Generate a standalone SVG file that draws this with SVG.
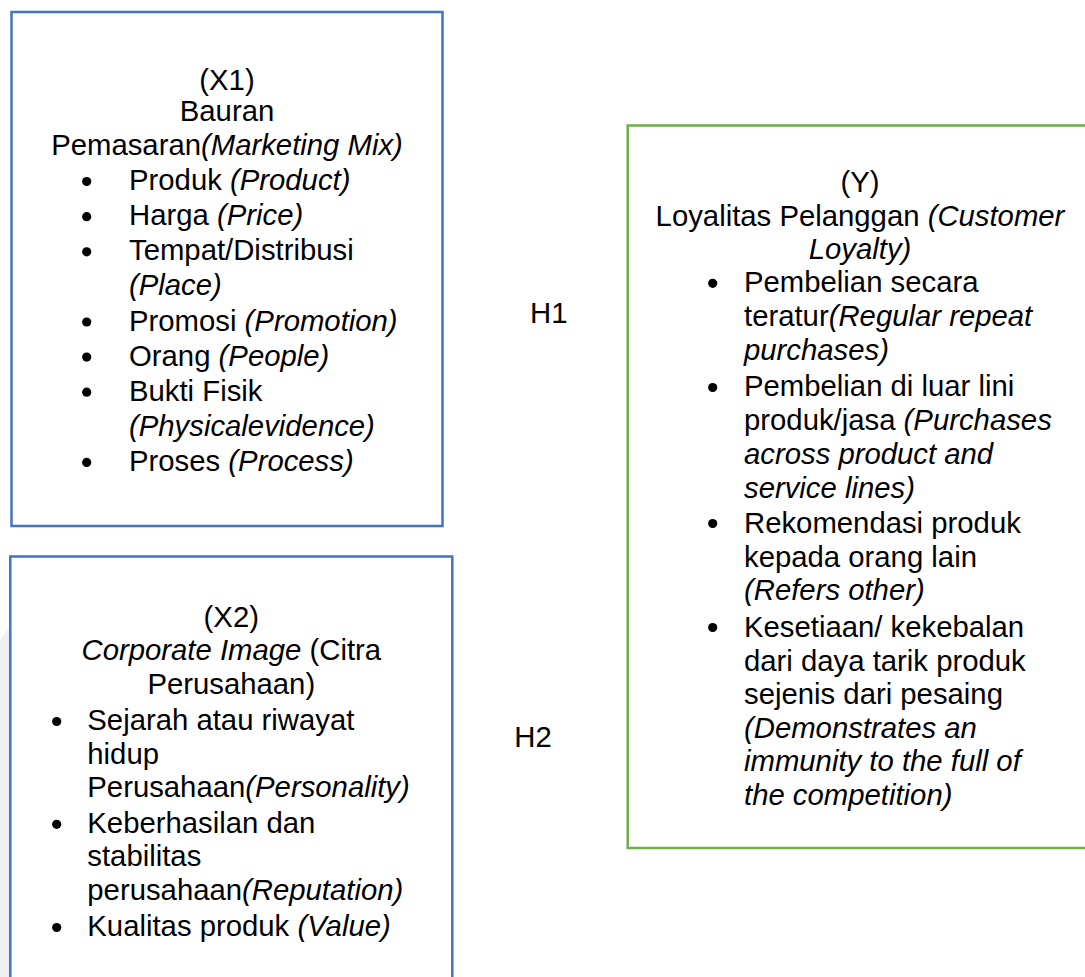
<svg xmlns="http://www.w3.org/2000/svg" width="1085" height="977" viewBox="0 0 1085 977">
<style>
.t{font-family:"Liberation Sans",Arial,sans-serif;font-size:29.3px;fill:#000}
.c{text-anchor:middle}
.i{font-style:italic}
.bx{fill:#fff;stroke:#4472C4;stroke-width:2.5}
.gy{fill:#fff;stroke:#70AD47;stroke-width:2.5}
.bul{fill:#000}
</style>
<rect width="1085" height="977" fill="#fff"/>
<path d="M0 640 L9 628 L9 977 L0 977 Z" fill="#efefef"/>
<g id="X1">
<rect class="bx" x="11.5" y="12" width="431" height="514"/>
<text class="t c" x="227" y="89.5">(X1)</text>
<text class="t c" x="227" y="121">Bauran</text>
<text class="t c" x="227" y="155">Pemasaran<tspan class="i">(Marketing Mix)</tspan></text>
<g class="bul">
<circle cx="86.7" cy="181.5" r="4.6"/>
<circle cx="86.7" cy="216.7" r="4.6"/>
<circle cx="86.7" cy="251.8" r="4.6"/>
<circle cx="86.7" cy="322" r="4.6"/>
<circle cx="86.7" cy="357.1" r="4.6"/>
<circle cx="86.7" cy="392.2" r="4.6"/>
<circle cx="86.7" cy="462.4" r="4.6"/>
</g>
<text class="t" x="129" y="190">Produk <tspan class="i">(Product)</tspan></text>
<text class="t" x="129" y="225.2">Harga <tspan class="i">(Price)</tspan></text>
<text class="t" x="129" y="260.3">Tempat/Distribusi</text>
<text class="t i" x="129" y="295.4">(Place)</text>
<text class="t" x="129" y="330.5">Promosi <tspan class="i">(Promotion)</tspan></text>
<text class="t" x="129" y="365.6">Orang <tspan class="i">(People)</tspan></text>
<text class="t" x="129" y="400.7">Bukti Fisik</text>
<text class="t i" x="129" y="435.8">(Physicalevidence)</text>
<text class="t" x="129" y="470.9">Proses <tspan class="i">(Process)</tspan></text>
</g>
<g id="X2">
<rect class="bx" x="10.3" y="556.5" width="442" height="440"/>
<text class="t c" x="231.3" y="627">(X2)</text>
<text class="t c" x="231.3" y="659.5"><tspan class="i">Corporate Image</tspan> (Citra</text>
<text class="t c" x="231.3" y="694">Perusahaan)</text>
<g class="bul">
<circle cx="56.7" cy="721.5" r="4.6"/>
<circle cx="56.7" cy="824.3" r="4.6"/>
<circle cx="56.7" cy="927.5" r="4.6"/>
</g>
<text class="t" x="87.3" y="730">Sejarah atau riwayat</text>
<text class="t" x="87.3" y="763.5">hidup</text>
<text class="t" x="87.3" y="797">Perusahaan<tspan class="i">(Personality)</tspan></text>
<text class="t" x="87.3" y="832.7">Keberhasilan dan</text>
<text class="t" x="87.3" y="866">stabilitas</text>
<text class="t" x="87.3" y="900">perusahaan<tspan class="i">(Reputation)</tspan></text>
<text class="t" x="87.3" y="936">Kualitas produk <tspan class="i">(Value)</tspan></text>
</g>
<g id="Y">
<rect class="gy" x="627.7" y="125.5" width="464" height="722.5"/>
<text class="t c" x="860" y="191.7">(Y)</text>
<text class="t c" x="860" y="225.5">Loyalitas Pelanggan <tspan class="i">(Customer</tspan></text>
<text class="t c i" x="860" y="259">Loyalty)</text>
<g class="bul">
<circle cx="712.7" cy="283.3" r="4.6"/>
<circle cx="712.7" cy="387.5" r="4.6"/>
<circle cx="712.7" cy="523.5" r="4.6"/>
<circle cx="712.7" cy="627.5" r="4.6"/>
</g>
<text class="t" x="744" y="292">Pembelian secara</text>
<text class="t" x="744" y="326">teratur<tspan class="i">(Regular repeat</tspan></text>
<text class="t i" x="744" y="360">purchases)</text>
<text class="t" x="744" y="396">Pembelian di luar lini</text>
<text class="t" x="744" y="429.5">produk/jasa <tspan class="i">(Purchases</tspan></text>
<text class="t i" x="744" y="463.5">across product and</text>
<text class="t i" x="744" y="497.5">service lines)</text>
<text class="t" x="744" y="533">Rekomendasi produk</text>
<text class="t" x="744" y="566.7">kepada orang lain</text>
<text class="t i" x="744" y="600">(Refers other)</text>
<text class="t" x="744" y="636.5">Kesetiaan/ kekebalan</text>
<text class="t" x="744" y="670.5">dari daya tarik produk</text>
<text class="t" x="744" y="704">sejenis dari pesaing</text>
<text class="t i" x="744" y="737.5">(Demonstrates an</text>
<text class="t i" x="744" y="771">immunity to the full of</text>
<text class="t i" x="744" y="804.5">the competition)</text>
</g>
<g id="connectors">
<text class="t" x="530" y="322.7">H1</text>
<text class="t" x="514.3" y="746.7">H2</text>
</g>
</svg>
